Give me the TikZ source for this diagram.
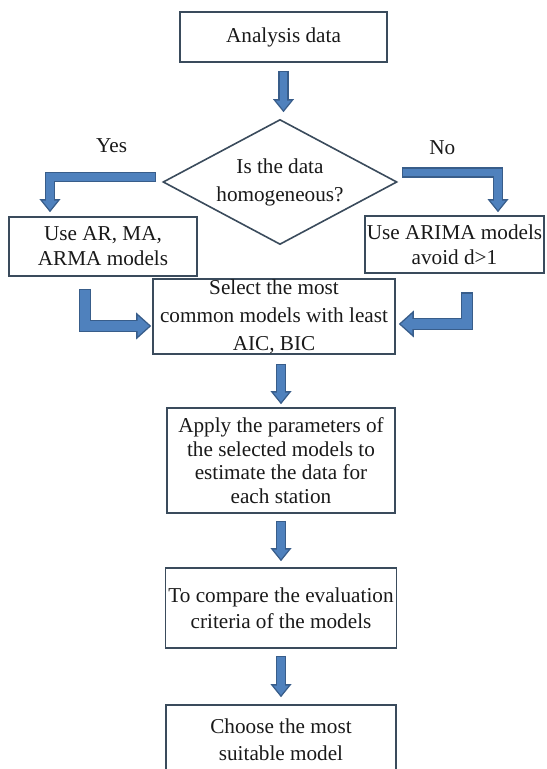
\documentclass[tikz,border=0pt]{standalone}
\usepackage{fontspec}
\setmainfont{Liberation Serif}
\usetikzlibrary{shapes.geometric, arrows.meta, positioning, calc}
\definecolor{arrowfill}{HTML}{4F81BD}
\definecolor{arrowedge}{HTML}{385D8A}
\definecolor{boxline}{HTML}{3A4B5C}
\tikzset{
  process/.style={draw=boxline, line width=0.8pt, align=center, inner sep=1pt, text=black!90, font=\fontsize{10.6pt}{12.5pt}\selectfont},
  decision/.style={process, diamond, aspect=1.87, inner sep=0pt},
  tag/.style={text=black!90, font=\fontsize{10.6pt}{12.5pt}\selectfont},
  blockarrow/.style={draw=arrowedge, line width=5.2pt, line join=miter, -{Triangle[width=10.5pt, length=6.5pt, color=arrowedge, line width=0pt]},
    postaction={draw=arrowfill, line width=3.8pt, -{Triangle[width=7.6pt, length=4.7pt, color=arrowfill, line width=0pt]}, shorten <=0.7pt, shorten >=1.1pt}},
  bigarrow/.style={draw=arrowedge, line width=6pt, line join=miter, -{Triangle[width=13.5pt, length=7.5pt, color=arrowedge, line width=0pt]},
    postaction={draw=arrowfill, line width=4.6pt, -{Triangle[width=10.3pt, length=5.75pt, color=arrowfill, line width=0pt]}, shorten <=0.7pt, shorten >=1.05pt}}
}

\begin{document}
\begin{tikzpicture}[x=1pt, y=1pt]
\useasboundingbox (-141.75,18.5) rectangle (131.25,-366);
\clip (-141.75,18.5) rectangle (131.25,-366);
\node[process, minimum width=103.5pt, minimum height=25pt] (data) {Analysis data};
\node[decision, below of=data, node distance=72.5pt, xshift=-1.75pt, minimum width=117pt, minimum height=62.5pt, font=\fontsize{10.6pt}{14pt}\selectfont] (homog) {Is the data\\homogeneous?};
\node[process, left of=homog, node distance=88.5pt, yshift=-32.25pt, minimum width=94pt, minimum height=29.5pt] (ar) {Use AR, MA,\\ARMA models};
\node[process, right of=homog, node distance=87.25pt, yshift=-31.25pt, minimum width=88.5pt, minimum height=28.5pt] (arima) {Use ARIMA models\\avoid d>1};
\node[process, below of=homog, node distance=67.25pt, xshift=-3pt, inner sep=0pt, minimum width=121pt, minimum height=37.5pt, font=\fontsize{10.6pt}{14pt}\selectfont] (select) {Select the most\\common models with least\\AIC, BIC};
\node[process, below of=select, node distance=72pt, xshift=3.5pt, minimum width=114pt, minimum height=52.5pt, font=\fontsize{10.6pt}{11.75pt}\selectfont] (apply) {Apply the parameters of\\the selected models to\\estimate the data for\\each station};
\node[process, below of=apply, node distance=73.75pt, minimum width=115.5pt, minimum height=40pt, font=\fontsize{10.6pt}{13pt}\selectfont] (compare) {To compare the evaluation\\criteria of the models};
\node[process, below of=compare, node distance=66pt, minimum width=115pt, minimum height=35pt, font=\fontsize{10.6pt}{13.5pt}\selectfont] (choose) {Choose the most\\suitable model};

% connectors
\draw[blockarrow] ($(data.south)+(0,-4)$) -- ($(data.south |- homog.north)+(0,3.25)$);
\draw[blockarrow] ($(homog.west)+(-3,2.5)$) -| ($(ar.north)+(-26.5,2)$) node[tag, pos=0.21, yshift=15.5pt] (yes) {Yes};
\draw[blockarrow] ($(homog.east)+(2,4.75)$) -| ($(arima.north)+(21.75,1.5)$) node[tag, pos=0.21, yshift=12.25pt] (no) {No};
\draw[bigarrow] ($(ar.south)+(-9,-6)$) |- ($(select.west)+(-0.5,-4.75)$);
\draw[bigarrow] ($(arima.south)+(6.25,-9.25)$) |- ($(select.east)+(1.5,-3.75)$);
\draw[blockarrow] ($(select.south -| apply.north)+(0,-4.5)$) -- ($(apply.north)+(0,1.5)$);
\draw[blockarrow] ($(apply.south)+(0,-3.5)$) -- ($(compare.north)+(0,3)$);
\draw[blockarrow] ($(compare.south)+(0,-3.5)$) -- ($(choose.north)+(0,3.5)$);
\end{tikzpicture}
\end{document}
